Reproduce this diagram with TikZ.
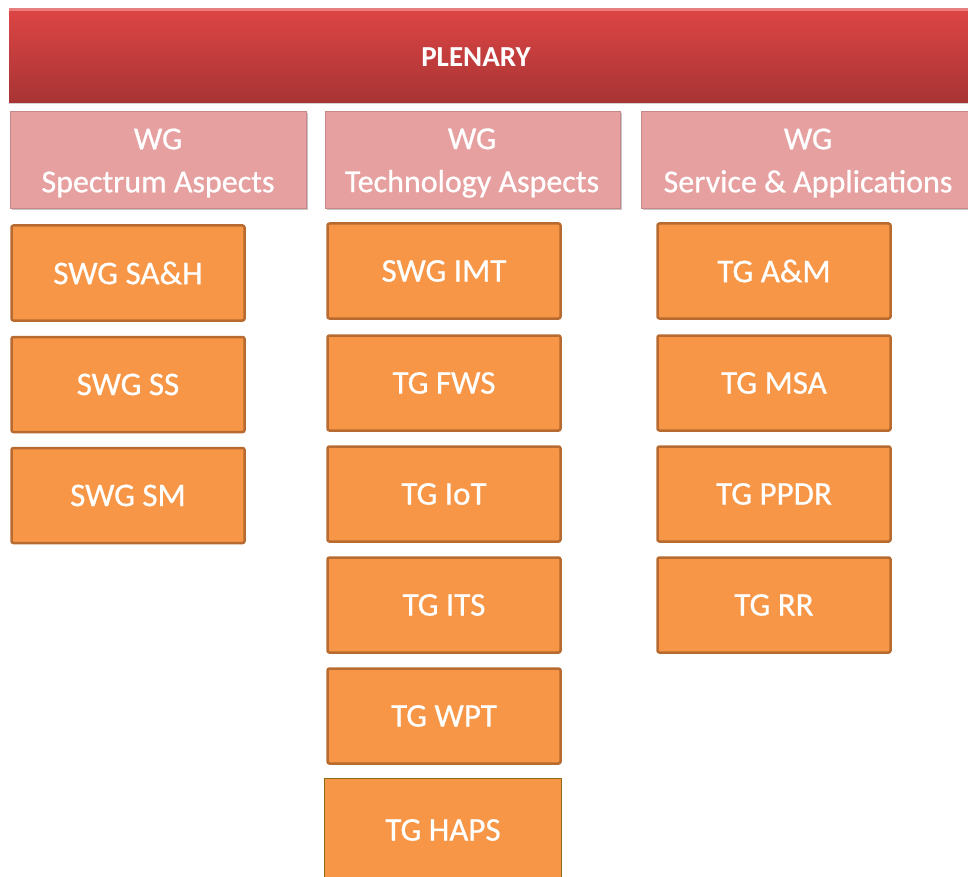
\documentclass[tikz,border=0pt]{standalone}
\usepackage{fontspec}
\setmainfont{Carlito}
\newfontfamily\emb{Carlito}[FakeBold=0.7]
\usetikzlibrary{shadows}
\definecolor{plentop}{HTML}{DE4545}
\definecolor{plenbot}{HTML}{A83434}
\definecolor{wgfill}{HTML}{E6A0A0}
\definecolor{wgedge}{HTML}{C88888}
\definecolor{orfill}{HTML}{F79646}
\definecolor{oredge}{HTML}{B86B30}
\definecolor{hapsedge}{HTML}{8A6A12}
\begin{document}
\begin{tikzpicture}[x=1pt,y=-1pt,
  txt/.style={text=white,font=\emb\fontsize{33}{40}\selectfont,inner sep=0pt},
  plenbox/.style={rectangle,draw=none,top color=plentop,bottom color=plenbot,
     anchor=north west,inner sep=0pt,
     drop shadow={opacity=0.35,shadow xshift=0pt,shadow yshift=-1.5pt}},
  wgbox/.style={rectangle,fill=wgfill,draw=wgedge,line width=0.6pt,anchor=north west,inner sep=0pt,
     drop shadow={opacity=0.45,shadow xshift=1.5pt,shadow yshift=-2pt}},
  wgtxt/.style={text=white,font=\emb\fontsize{32}{43}\selectfont,align=center,inner sep=0pt},
  orbox/.style={rectangle,rounded corners=2pt,fill=orfill,draw=oredge,line width=2.5pt,
     minimum width=233pt,minimum height=95pt,inner sep=0pt,txt,
     drop shadow={opacity=0.25,shadow xshift=1pt,shadow yshift=-1pt}},
  hapsbox/.style={rectangle,fill=orfill,draw=hapsedge,line width=1.2pt,
     minimum width=237pt,inner sep=0pt,anchor=north west},
]
\useasboundingbox (0,0) rectangle (968,877);
\fill[white] (0,0) rectangle (968,877);

% Plenary
\node[plenbox,minimum width=990pt,minimum height=94pt] (plen) at (9,8) {};
\fill[white,opacity=0.3] (9,8) rectangle (999,11);
\node[text=white,font=\bfseries\fontsize{29}{34}\selectfont,inner sep=0pt] (plentxt) at (476,57) {PLENARY};

% Working groups
\node[wgbox,minimum width=296pt,minimum height=97pt] (wga) at (10,111) {};
\node[wgtxt] (wgatxt) at (158,163) {WG\\Spectrum Aspects};
\node[wgbox,minimum width=295pt,minimum height=97pt] (wgb) at (325,111) {};
\node[wgtxt] (wgbtxt) at (472,163) {WG\\Technology Aspects};
\node[wgbox,minimum width=360pt,minimum height=97pt] (wgc) at (641,111) {};
\node[wgtxt] (wgctxt) at (808,163) {WG\\Service \& Applications};

% Column 1
\node[orbox] (sah) at (128,273) {SWG SA\&H};
\node[orbox] (ss)  at (128,384.5) {SWG SS};
\node[orbox] (sm)  at (128,495.5) {SWG SM};

% Column 2
\node[orbox] (imt)  at (444,271) {SWG IMT};
\node[orbox] (fws)  at (444,383) {TG FWS};
\node[orbox] (iot)  at (444,494) {TG IoT};
\node[orbox] (its)  at (444,605) {TG ITS};
\node[orbox] (wpt)  at (444,716) {TG WPT};
\node[hapsbox,minimum height=110pt] (haps) at (324,778) {};
\node[txt] (hapstxt) at (443,830) {TG HAPS};

% Column 3
\node[orbox] (am)   at (774,271) {TG A\&M};
\node[orbox] (msa)  at (774,383) {TG MSA};
\node[orbox] (ppdr) at (774,494) {TG PPDR};
\node[orbox] (rr)   at (774,605) {TG RR};
\end{tikzpicture}
\end{document}
